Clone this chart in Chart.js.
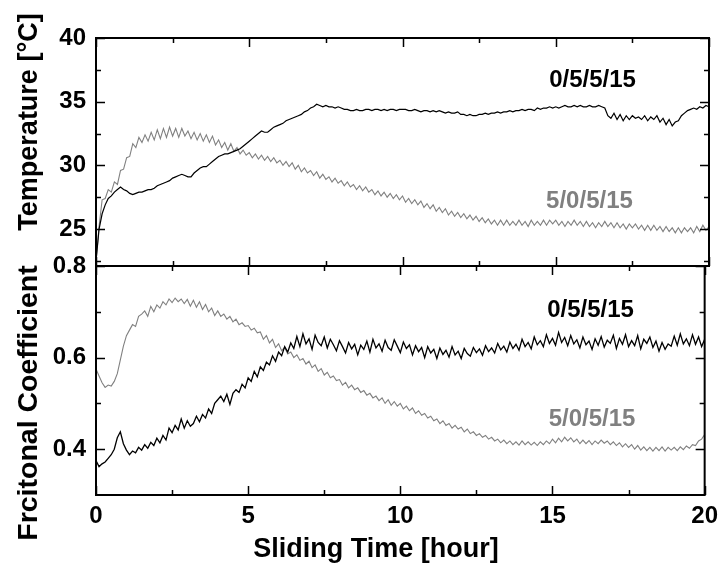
<!DOCTYPE html>
<html>
<head>
<meta charset="utf-8">
<script src="https://cdn.jsdelivr.net/npm/chart.js@4.4.1/dist/chart.umd.min.js"></script>
<style>
html,body{margin:0;padding:0;background:#fff;}
#wrap{position:relative;width:725px;height:569px;background:#fff;}
canvas{position:absolute;left:0;top:0;}
</style>
</head>
<body>
<div id="wrap">
<canvas id="cTop" width="725" height="569"></canvas>
<canvas id="cBot" width="725" height="569"></canvas>
</div>
<script>
// ---- data (sampled every 0.1 hour, 0..20 h) ----
const tempBlack = [22.5,25.0,26.2,26.9,27.4,27.6,27.9,28.1,28.3,28.1,28.0,27.8,27.7,27.8,27.9,27.9,28.0,28.1,28.1,28.2,
28.4,28.5,28.6,28.7,28.8,29.0,29.1,29.2,29.3,29.2,29.1,29.1,29.4,29.6,29.8,29.9,29.9,30.1,30.3,30.5,
30.7,30.8,30.9,30.9,31.0,31.1,31.2,31.3,31.5,31.7,31.9,32.1,32.3,32.5,32.7,32.6,32.6,32.8,33.0,33.1,
33.2,33.3,33.5,33.6,33.7,33.8,33.9,34.0,34.2,34.3,34.5,34.6,34.8,34.7,34.6,34.7,34.6,34.6,34.5,34.6,
34.5,34.4,34.4,34.3,34.3,34.4,34.3,34.3,34.4,34.4,34.3,34.4,34.4,34.3,34.4,34.3,34.4,34.4,34.3,34.4,
34.4,34.4,34.3,34.3,34.4,34.3,34.2,34.3,34.3,34.2,34.3,34.2,34.3,34.2,34.1,34.2,34.1,34.1,34.2,34.0,
34.0,33.9,34.0,33.9,33.9,34.0,34.0,34.1,34.0,34.1,34.1,34.2,34.1,34.2,34.2,34.3,34.2,34.3,34.3,34.4,
34.3,34.4,34.4,34.3,34.5,34.4,34.5,34.5,34.6,34.5,34.6,34.5,34.6,34.7,34.6,34.6,34.7,34.6,34.7,34.6,
34.6,34.7,34.6,34.6,34.7,34.6,34.5,33.9,33.7,34.1,33.6,34.0,33.5,33.9,33.6,33.9,33.7,33.8,33.6,33.9,
33.5,33.8,33.6,33.9,33.4,33.7,33.2,33.6,33.1,33.4,33.5,33.9,34.1,34.3,34.4,34.5,34.4,34.6,34.5,34.7,34.6];

const tempGray = [22.4,25.2,27.3,27.4,28.1,27.9,28.7,28.5,29.6,29.7,30.6,30.7,31.7,31.4,32.2,31.8,32.4,31.9,32.6,32.0,
32.8,32.1,32.9,32.2,33.0,32.3,32.9,32.2,32.9,32.3,32.7,32.1,32.6,32.0,32.5,31.9,32.4,31.8,32.3,31.6,
32.0,31.4,31.8,31.2,31.7,31.1,31.4,30.9,31.2,30.8,31.0,30.6,30.9,30.5,30.8,30.4,30.7,30.3,30.6,30.2,
30.4,30.0,30.3,29.9,30.2,29.7,30.0,29.5,29.8,29.4,29.6,29.2,29.5,29.0,29.3,28.9,29.1,28.7,29.0,28.6,
28.8,28.4,28.7,28.3,28.5,28.1,28.4,28.0,28.3,27.9,28.1,27.7,28.0,27.6,27.9,27.5,27.8,27.4,27.7,27.3,
27.6,27.1,27.4,27.0,27.3,26.9,27.2,26.7,27.0,26.6,26.9,26.4,26.7,26.3,26.6,26.1,26.4,26.0,26.3,25.9,
26.2,25.8,26.1,25.7,26.0,25.6,25.9,25.5,25.8,25.4,25.7,25.3,25.7,25.3,25.7,25.3,25.6,25.3,25.7,25.3,
25.6,25.2,25.7,25.3,25.6,25.3,25.7,25.3,25.7,25.4,25.7,25.3,25.6,25.2,25.6,25.3,25.7,25.3,25.6,25.2,
25.6,25.2,25.5,25.1,25.5,25.2,25.6,25.2,25.5,25.1,25.5,25.1,25.4,25.0,25.4,25.1,25.4,25.0,25.3,24.9,
25.3,24.9,25.3,24.9,25.2,24.8,25.2,24.8,25.1,24.7,25.1,24.7,25.1,24.8,25.1,24.7,25.2,24.8,25.3,24.9,25.2];

const fricBlack = [0.375,0.362,0.368,0.372,0.380,0.388,0.400,0.425,0.438,0.412,0.398,0.388,0.396,0.392,0.404,0.398,0.410,0.402,0.415,0.408,
0.424,0.414,0.430,0.420,0.446,0.436,0.452,0.442,0.466,0.446,0.462,0.450,0.456,0.472,0.460,0.476,0.468,0.488,0.478,0.500,
0.508,0.516,0.504,0.520,0.498,0.522,0.530,0.524,0.542,0.534,0.556,0.548,0.570,0.558,0.580,0.572,0.590,0.584,0.604,0.592,
0.612,0.604,0.624,0.612,0.632,0.620,
0.646,0.624,0.652,0.630,0.641,0.618,0.649,0.633,0.626,0.645,
0.621,0.640,0.628,0.615,0.637,0.624,0.610,0.633,0.619,0.629,
0.606,0.627,0.618,0.636,0.612,0.640,0.621,0.630,0.614,0.638,
0.622,0.616,0.639,0.625,0.611,0.634,0.620,0.628,0.606,0.626,
0.613,0.622,0.600,0.624,0.610,0.618,0.598,0.621,0.607,0.616,
0.601,0.624,0.606,0.614,0.598,0.620,0.609,0.603,0.622,0.611,
0.619,0.605,0.626,0.613,0.621,0.610,0.631,0.617,0.625,0.612,
0.634,0.620,0.629,0.616,0.640,0.624,0.633,0.619,0.645,0.628,
0.637,0.624,0.650,0.631,0.642,0.627,0.655,0.633,0.644,0.626,
0.648,0.630,0.639,0.621,0.645,0.628,0.636,0.618,0.641,0.627,
0.646,0.623,0.638,0.631,0.649,0.620,0.642,0.629,0.650,0.624,
0.637,0.626,0.648,0.619,0.640,0.631,0.645,0.622,0.636,0.614,
0.633,0.618,0.630,0.625,0.647,0.627,0.652,0.630,0.641,0.626,
0.650,0.629,0.645,0.624,0.640];

const fricGray = [0.575,0.560,0.545,0.535,0.540,0.538,0.548,0.565,0.595,0.625,0.648,0.660,0.672,0.668,0.690,0.695,0.702,0.690,0.712,0.700,
0.715,0.708,0.722,0.715,0.728,0.720,0.730,0.722,0.728,0.718,0.727,0.712,0.725,0.710,0.722,0.705,0.716,0.700,0.708,0.692,
0.702,0.690,0.695,0.684,0.690,0.678,0.684,0.672,0.676,0.668,0.670,0.660,0.664,0.654,0.656,0.640,0.648,0.632,0.640,0.622,
0.630,0.615,0.622,0.608,0.612,0.600,0.606,0.594,0.598,0.586,0.592,0.578,0.584,0.570,0.576,0.562,0.568,0.556,0.560,0.550,
0.552,0.540,0.546,0.534,0.540,0.530,0.534,0.524,0.528,0.518,0.522,0.512,0.516,0.506,0.512,0.500,0.508,0.496,0.504,0.494,
0.500,0.488,0.494,0.484,0.490,0.478,0.484,0.474,0.478,0.468,0.472,0.462,0.466,0.456,0.462,0.452,0.456,0.446,0.452,0.444,
0.448,0.438,0.444,0.434,0.438,0.430,0.434,0.426,0.430,0.422,0.426,0.418,0.422,0.414,0.420,0.412,0.418,0.410,0.416,0.409,
0.418,0.410,0.416,0.409,0.415,0.408,0.416,0.410,0.418,0.412,0.422,0.414,0.424,0.416,0.426,0.418,0.425,0.416,0.422,0.412,
0.420,0.412,0.419,0.410,0.418,0.412,0.420,0.413,0.418,0.410,0.416,0.408,0.414,0.405,0.412,0.404,0.410,0.400,0.408,0.398,
0.405,0.397,0.404,0.396,0.404,0.397,0.405,0.396,0.404,0.398,0.404,0.397,0.405,0.399,0.407,0.402,0.410,0.408,0.418,0.422,0.432];

const seriesNames = ['0/5/5/15','5/0/5/15'];
const xMajorTicks = [0,5,10,15,20];
const xMinorTicks = [2.5,7.5,12.5,17.5];
const tempMajorTicks = [25,30,35,40];
const tempMinorTicks = [22.5,27.5,32.5,37.5];
const fricMajorTicks = [0.4,0.6,0.8];
const fricMinorTicks = [0.5,0.7];
const xTitle = 'Sliding Time [hour]';
const tempTitle = 'Temperature [°C]';
const fricTitle = 'Frcitonal Coefficient';

// sampling grid of the recorded data (hours)
const hours = tempBlack.map((_, i) => i / 10);
const pts = arr => arr.map((v, i) => ({x: hours[i], y: v}));

const BLACK = '#000000';
const GRAY = '#808080';
const FONT = '"Liberation Sans", Arial, Helvetica, sans-serif';

function framePlugin(opts) {
  return {
    id: 'frame_' + opts.key,
    afterDraw(chart) {
      const ctx = chart.ctx;
      const a = chart.chartArea;
      const xs = chart.scales.x, ys = chart.scales.y;
      ctx.save();
      ctx.strokeStyle = '#000';
      ctx.lineWidth = 2;
      ctx.strokeRect(a.left, a.top, a.right - a.left, a.bottom - a.top);
      ctx.lineWidth = 1.5;
      ctx.beginPath();
      const tick = (vals, len) => {
        vals.forEach(v => {
          const px = Math.round(xs.getPixelForValue(v)) + 0.5;
          ctx.moveTo(px, a.bottom); ctx.lineTo(px, a.bottom - len);
          ctx.moveTo(px, a.top); ctx.lineTo(px, a.top + len);
        });
      };
      tick(xMajorTicks, 9); tick(xMinorTicks, 5);
      const ytick = (vals, len) => {
        vals.forEach(v => {
          const py = Math.round(ys.getPixelForValue(v)) + 0.5;
          ctx.moveTo(a.left, py); ctx.lineTo(a.left + len, py);
          ctx.moveTo(a.right, py); ctx.lineTo(a.right - len, py);
        });
      };
      ytick(opts.yMajor, 9); ytick(opts.yMinor, 5);
      ctx.stroke();

      // y title
      ctx.fillStyle = '#000';
      ctx.font = 'bold ' + opts.titleSize + 'px ' + FONT;
      ctx.textAlign = 'center';
      ctx.textBaseline = 'alphabetic';
      ctx.save();
      ctx.translate(37, opts.titleY);
      ctx.rotate(-Math.PI / 2);
      ctx.fillText(opts.title, 0, 0);
      ctx.restore();

      // series labels
      ctx.font = 'bold 24px ' + FONT;
      ctx.textBaseline = 'middle';
      opts.labels.forEach(l => {
        ctx.fillStyle = l.color;
        ctx.fillText(l.text, xs.getPixelForValue(l.x), ys.getPixelForValue(l.y));
      });

      if (opts.xTitle) {
        ctx.fillStyle = '#000';
        ctx.font = 'bold 27px ' + FONT;
        ctx.textBaseline = 'alphabetic';
        ctx.fillText(xTitle, 376, 557);
      }
      ctx.restore();
    }
  };
}

function makeChart(id, cfg) {
  return new Chart(document.getElementById(id), {
    type: 'line',
    data: {
      datasets: [
        {label: seriesNames[0], data: pts(cfg.black), borderColor: BLACK, borderWidth: cfg.bw, pointRadius: 0, tension: 0, fill: false},
        {label: seriesNames[1], data: pts(cfg.gray), borderColor: GRAY, borderWidth: 1.1, pointRadius: 0, tension: 0, fill: false}
      ]
    },
    options: {
      responsive: false,
      animation: false,
      events: [],
      layout: {padding: {left: 0, right: 16, top: cfg.padTop, bottom: cfg.padBottom}},
      plugins: {legend: {display: false}, tooltip: {enabled: false}},
      scales: {
        x: {
          type: 'linear', min: 0, max: 20,
          grid: {display: false, drawTicks: false},
          border: {display: false},
          ticks: {display: cfg.showX, stepSize: 5, padding: 7, color: '#000', font: {family: FONT, size: 24, weight: 'bold'}, maxRotation: 0},
          afterFit: s => { s.height = cfg.xh; }
        },
        y: {
          type: 'linear', min: cfg.ymin, max: cfg.ymax,
          grid: {display: false, drawTicks: false},
          border: {display: false},
          ticks: {
            stepSize: cfg.step, padding: 10, color: '#000',
            font: {family: FONT, size: 24, weight: 'bold'},
            callback: cfg.fmt
          },
          afterFit: s => { s.width = 96; }
        }
      }
    },
    plugins: [framePlugin(cfg.frame)]
  });
}

makeChart('cTop', {
  black: tempBlack, gray: tempGray, bw: 1.2,
  padTop: 38, padBottom: 0, showX: false, xh: 303,
  ymin: 22.1, ymax: 40, step: 5,
  fmt: v => (Math.abs(v / 5 - Math.round(v / 5)) < 1e-6 ? String(Math.round(v)) : ''),
  frame: {key: 't', yMajor: tempMajorTicks, yMinor: tempMinorTicks, title: tempTitle, titleSize: 27, titleY: 122,
    labels: [{text: seriesNames[0], color: BLACK, x: 16.2, y: 36.66}, {text: seriesNames[1], color: GRAY, x: 16.1, y: 27.2}],
    xTitle: false}
});

makeChart('cBot', {
  black: fricBlack, gray: fricGray, bw: 1.3,
  padTop: 266, padBottom: 0, showX: true, xh: 74,
  ymin: 0.3, ymax: 0.8, step: 0.2,
  fmt: v => (v > 0.35 ? v.toFixed(1) : ''),
  frame: {key: 'b', yMajor: fricMajorTicks, yMinor: fricMinorTicks, title: fricTitle, titleSize: 28.5, titleY: 403,
    labels: [{text: seriesNames[0], color: BLACK, x: 16.25, y: 0.703}, {text: seriesNames[1], color: GRAY, x: 16.3, y: 0.466}],
    xTitle: true}
});
</script>
</body>
</html>
